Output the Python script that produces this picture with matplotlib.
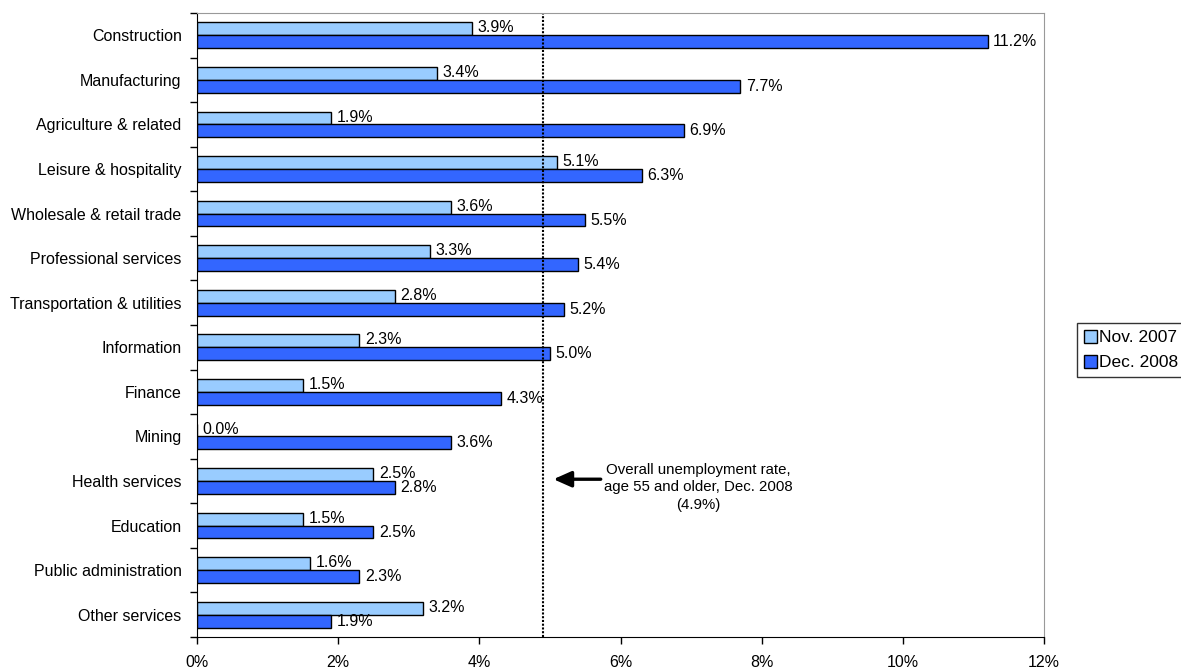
import matplotlib
matplotlib.use("Agg")
import matplotlib.pyplot as plt
import numpy as np

plt.rcParams['font.family'] = ['Liberation Sans', 'DejaVu Sans']

industries = ["Construction", "Manufacturing", "Agriculture & related",
              "Leisure & hospitality", "Wholesale & retail trade",
              "Professional services", "Transportation & utilities",
              "Information", "Finance", "Mining", "Health services",
              "Education", "Public administration", "Other services"]
nov_2007 = [3.9, 3.4, 1.9, 5.1, 3.6, 3.3, 2.8, 2.3, 1.5, 0.0, 2.5, 1.5, 1.6, 3.2]
dec_2008 = [11.2, 7.7, 6.9, 6.3, 5.5, 5.4, 5.2, 5.0, 4.3, 3.6, 2.8, 2.5, 2.3, 1.9]
overall_rate = 4.9
x_ticks = [0, 2, 4, 6, 8, 10, 12]

FS = 11.5

fig = plt.figure(figsize=(11.81, 6.68), dpi=100)
ax = fig.add_axes([197/1181, 1-637/668, (1044-197)/1181, (637-13)/668])

y = np.arange(len(industries))
h = 0.29
light = "#99CCFF"
dark = "#3366FF"
b1 = ax.barh(y - h/2, nov_2007, height=h, color=light, edgecolor="black",
             linewidth=1.0, label="Nov. 2007")
b2 = ax.barh(y + h/2, dec_2008, height=h, color=dark, edgecolor="black",
             linewidth=1.0, label="Dec. 2008")

for yy, v in zip(y - h/2, nov_2007):
    ax.text(v + 0.08, yy - 0.02, f"{v:.1f}%", va="center", ha="left", fontsize=FS)
for yy, v in zip(y + h/2, dec_2008):
    ax.text(v + 0.08, yy, f"{v:.1f}%", va="center", ha="left", fontsize=FS)

ax.axvline(overall_rate, color="black", linestyle=(0, (1, 0.8)), linewidth=1.5)

hs = industries.index("Health services")
ax.annotate("", xy=(5.05, hs - 0.04), xytext=(5.72, hs - 0.04),
            arrowprops=dict(arrowstyle="-|>,head_length=0.9,head_width=0.4",
                            color="black", lw=2.4, mutation_scale=12,
                            shrinkA=0, shrinkB=0))
ax.text(7.1, hs + 0.14,
        "Overall unemployment rate,\nage 55 and older, Dec. 2008\n(4.9%)",
        ha="center", va="center", fontsize=10.8, linespacing=1.3)

ax.set_xlim(0, 12)
ax.set_ylim(len(industries) - 0.5, -0.5)
ax.set_xticks(x_ticks)
ax.set_xticklabels([f"{t}%" for t in x_ticks], fontsize=FS)
ax.set_yticks(y)
ax.set_yticklabels(industries, fontsize=FS)
ax.tick_params(axis="y", length=0, pad=11)
ax.set_yticks(np.arange(len(industries) + 1) - 0.5, minor=True)
ax.tick_params(axis="y", which="minor", length=5, width=1, color="black")
ax.tick_params(axis="x", length=5, width=1, pad=8)

for side in ["top", "right"]:
    ax.spines[side].set_color("#999999")
for side in ["left", "bottom"]:
    ax.spines[side].set_color("black")

leg = fig.legend(handles=[b1, b2], loc="upper left",
                 bbox_to_anchor=(1077/1181, 1-323/668), fontsize=12.5,
                 frameon=True, fancybox=False, edgecolor="black",
                 handlelength=0.75, handleheight=0.75, handletextpad=0.12,
                 borderpad=0.4, labelspacing=0.55, borderaxespad=0)
leg.get_frame().set_linewidth(1.0)

fig.savefig("out.png", dpi=100)
